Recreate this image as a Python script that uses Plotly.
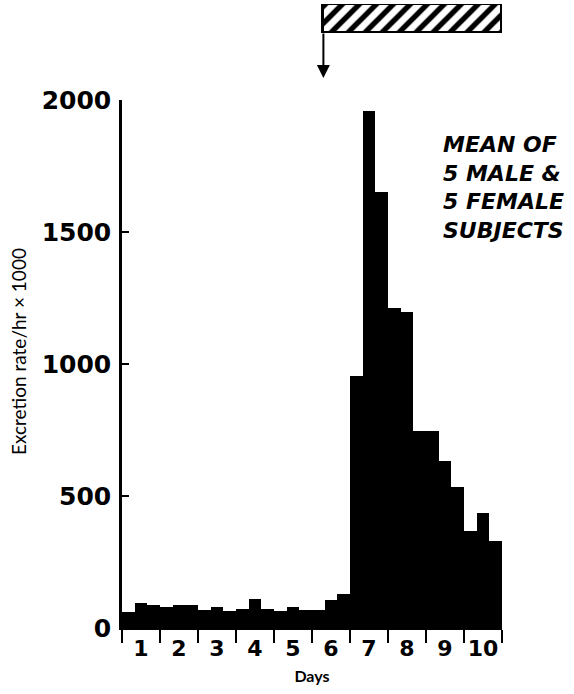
import plotly.graph_objects as go

# Mean urinary excretion rate, one value per 8-hour collection period (3 per day)
days = list(range(1, 11))
periods_per_day = 3
excretion_rate = [
    60, 95, 88,      # day 1
    78, 88, 86,      # day 2
    67, 81, 66,      # day 3
    71, 110, 72,     # day 4
    66, 80, 70,      # day 5
    68, 106, 130,    # day 6
    953, 1960, 1650, # day 7
    1213, 1197, 748, # day 8
    748, 631, 536,   # day 9
    368, 435, 328,   # day 10
]
y_ticks = [0, 500, 1000, 1500, 2000]

# treatment period shown by the hatched bar (in days)
treatment_start = 5.3
treatment_end = 10.0

period_width = 1 / periods_per_day
period_centers = [(i + 0.5) * period_width for i in range(len(excretion_rate))]

fig = go.Figure()

fig.add_trace(go.Bar(
    x=period_centers,
    y=excretion_rate,
    width=period_width,
    marker=dict(color="black", line=dict(width=0)),
    xaxis="x", yaxis="y",
    showlegend=False,
    hoverinfo="skip",
))

# hatched treatment bar drawn in its own strip above the chart
fig.add_trace(go.Bar(
    y=[0],
    x=[treatment_end - treatment_start],
    base=[treatment_start],
    orientation="h",
    width=1,
    marker=dict(
        color="white",
        line=dict(color="black", width=3),
        pattern=dict(shape="/", fgcolor="black", bgcolor="white",
                     size=12, solidity=0.45, fillmode="replace"),
    ),
    xaxis="x2", yaxis="y2",
    showlegend=False,
    hoverinfo="skip",
))

H = 694
plot_h = H - 66
main_top = (plot_h - 100) / plot_h

fig.update_layout(
    width=574, height=H,
    margin=dict(l=122, r=72, t=0, b=66, autoexpand=False),
    paper_bgcolor="white", plot_bgcolor="white",
    bargap=0,
    font=dict(family="DejaVu Sans", color="black"),
    xaxis=dict(
        domain=[0, 1],
        range=[0, 10],
        showgrid=False, zeroline=False,
        showline=True, linecolor="black", linewidth=2,
        tickvals=[d - 0.5 for d in days],
        ticktext=[f"<b>{d}</b>" for d in days],
        ticks="",
        ticklabelstandoff=0,
        tickfont=dict(family="DejaVu Sans", size=22, color="black"),
        minor=dict(tickvals=list(range(0, 11)), ticks="outside",
                   ticklen=13, tickwidth=2, tickcolor="black"),
        title=dict(text="<b>Days</b>", font=dict(family="Lato", size=16, color="black"),
                   standoff=10),
        anchor="y",
    ),
    yaxis=dict(
        domain=[0, main_top],
        range=[0, 2000],
        showgrid=False, zeroline=False,
        showline=True, linecolor="black", linewidth=2.5,
        tickvals=y_ticks,
        ticktext=[f"<b>{v}</b>" for v in y_ticks],
        ticks="inside", ticklen=7, tickwidth=2, tickcolor="black",
        tickfont=dict(family="DejaVu Sans", size=25, color="black"),
        ticklabelstandoff=3,
        anchor="x",
    ),
    xaxis2=dict(
        domain=[0, 1], range=[0, 10], anchor="y2",
        visible=False, showgrid=False, zeroline=False,
    ),
    yaxis2=dict(
        domain=[(plot_h - 33) / plot_h, (plot_h - 4) / plot_h],
        range=[-0.5, 0.5], anchor="x2",
        visible=False, showgrid=False, zeroline=False,
    ),
)

# y-axis title
fig.add_annotation(
    x=(18 - 122) / 380, xref="paper",
    y=(plot_h - 352) / plot_h, yref="paper",
    xanchor="center", yanchor="middle",
    text="Excretion rate/hr \u00d7 1000", textangle=-90,
    showarrow=False,
    font=dict(family="Lato", size=19, color="black"),
)

# arrow marking the start of treatment
fig.add_annotation(
    x=treatment_start, xref="x",
    y=(plot_h - 78) / plot_h, yref="paper",
    ax=0, ay=-46, axref="pixel", ayref="pixel",
    text="", showarrow=True,
    arrowhead=2, arrowsize=1.3, arrowwidth=2, arrowcolor="black",
)

fig.add_annotation(
    x=(441 - 122) / 380, xref="x domain",
    y=(plot_h - 187) / plot_h, yref="paper",
    xanchor="left", yanchor="middle", align="left",
    text="<b><i>MEAN OF<br>5 MALE &amp;<br>5 FEMALE<br>SUBJECTS</i></b>",
    showarrow=False,
    font=dict(family="DejaVu Sans", size=22, color="black"),
)

fig.write_html("out.html")
